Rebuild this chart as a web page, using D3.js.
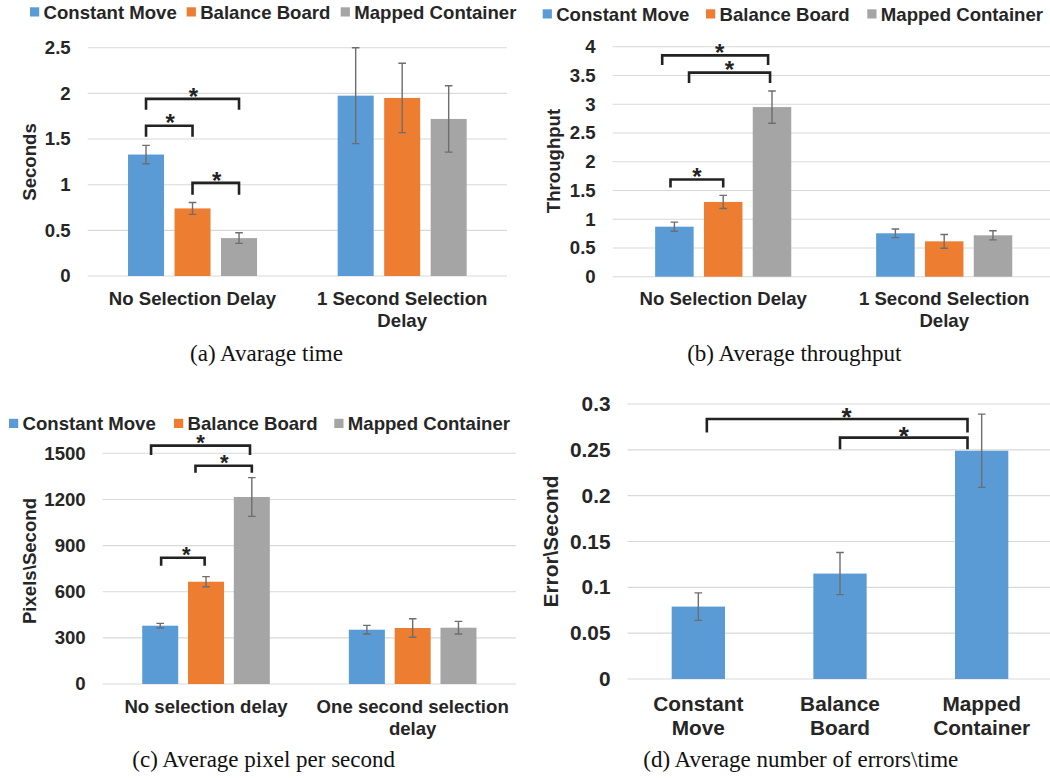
<!DOCTYPE html>
<html>
<head>
<meta charset="utf-8">
<script src="https://cdn.jsdelivr.net/npm/d3@7"></script>
<style>
  html, body { margin: 0; padding: 0; background: #ffffff; }
  svg { display: block; }
</style>
</head>
<body>
<script>
// ---------------- DATA ----------------
const seriesNames = ["Constant Move", "Balance Board", "Mapped Container"];
const seriesColors = ["#5B9BD5", "#ED7D31", "#A5A5A5"];

// (a) Average time
const timeCategories = ["No Selection Delay", "1 Second Selection Delay"];
const timeMean = [[1.33, 0.74, 0.415], [1.975, 1.95, 1.72]];
const timeErr = [[0.10, 0.065, 0.058], [0.525, 0.38, 0.363]];
const timeTicks = [0, 0.5, 1, 1.5, 2, 2.5];
// [category, from series, to series, bracket top, leg bottom, star position (series units)]
const timeBrackets = [[0, 0, 2, 1.94, 1.82, 1.02], [0, 0, 1, 1.646, 1.526, 0.52], [0, 1, 2, 1.02, 0.89, 1.52]];

// (b) Average throughput
const thrCategories = ["No Selection Delay", "1 Second Selection Delay"];
const thrMean = [[0.87, 1.30, 2.95], [0.755, 0.615, 0.72]];
const thrErr = [[0.08, 0.115, 0.28], [0.075, 0.12, 0.08]];
const thrTicks = [0, 0.5, 1, 1.5, 2, 2.5, 3, 3.5, 4];
const thrBrackets = [[0, -0.25, 1.92, 3.85, 3.68, 0.93], [0, 0.3, 1.96, 3.55, 3.37, 1.13], [0, -0.08, 1.0, 1.69, 1.55, 0.46]];

// (c) Average pixel per second
const pixCategories = ["No selection delay", "One second selection delay"];
const pixMean = [[379, 665, 1216], [353, 364, 366]];
const pixErr = [[15, 33, 126], [28, 60, 41]];
const pixTicks = [0, 300, 600, 900, 1200, 1500];
const pixBrackets = [[0, -0.2, 1.96, 1550, 1489, 0.88], [0, 0.77, 2.0, 1419, 1374, 1.40], [0, 0.02, 0.97, 821, 769, 0.57]];

// (d) Average number of errors\time
const errCategories = ["Constant Move", "Balance Board", "Mapped Container"];
const errMean = [0.079, 0.115, 0.249];
const errErr = [0.015, 0.023, 0.04];
const errTicks = [0, 0.05, 0.1, 0.15, 0.2, 0.25, 0.3];
// [from category, to category, bracket top, leg bottom, star position (category units)]
const errBrackets = [[0.06, 1.9, 0.2837, 0.269, 1.047], [1.0, 1.9, 0.2633, 0.2506, 1.45]];

const captions = ["(a) Avarage time", "(b) Average throughput", "(c) Average pixel per second", "(d) Average number of errors\\time"];
const yTitles = ["Seconds", "Throughput", "Pixels\\Second", "Error\\Second"];

// ---------------- DRAWING ----------------
const SANS = "'Liberation Sans', Arial, Helvetica, sans-serif";
const SERIF = "'Liberation Serif', 'Times New Roman', Times, serif";
const TXT = "#262626";

const svg = d3.select("body").append("svg")
  .attr("width", 1050).attr("height", 778)
  .style("background", "#ffffff");

function wrapText(textSel, width, lineHeight) {
  textSel.each(function () {
    const t = d3.select(this);
    const words = t.text().split(/\s+/);
    const x = t.attr("x");
    t.text(null);
    let line = [];
    let tspan = t.append("tspan").attr("x", x).attr("dy", 0);
    words.forEach(w => {
      line.push(w);
      tspan.text(line.join(" "));
      if (tspan.node().getComputedTextLength() > width && line.length > 1) {
        line.pop();
        tspan.text(line.join(" "));
        line = [w];
        tspan = t.append("tspan").attr("x", x).attr("dy", lineHeight).text(w);
      }
    });
  });
}

function drawAxisAndGrid(g, p, y) {
  g.append("g").selectAll("line").data(p.ticks).join("line")
    .attr("x1", p.x0).attr("x2", p.x1)
    .attr("y1", d => y(d)).attr("y2", d => y(d))
    .attr("stroke", "#d9d9d9").attr("stroke-width", 1.1);
  const ax = g.append("g").attr("transform", `translate(${p.x0},0)`)
    .call(d3.axisLeft(y).tickValues(p.ticks).tickFormat(d => String(d)).tickSize(0).tickPadding(17));
  ax.select(".domain").remove();
  ax.selectAll("text")
    .attr("font-family", SANS).attr("font-weight", "bold")
    .attr("font-size", p.fs).attr("fill", TXT);
  g.append("text")
    .attr("transform", `translate(${p.titleX},${p.titleY}) rotate(-90)`)
    .attr("text-anchor", "middle")
    .attr("font-family", SANS).attr("font-weight", "bold")
    .attr("font-size", p.fs).attr("fill", TXT)
    .text(p.yTitle);
  g.append("text")
    .attr("x", p.capX).attr("y", p.capY)
    .attr("text-anchor", "middle")
    .attr("font-family", SERIF).attr("font-size", 23).attr("fill", "#111")
    .text(p.caption);
}

function drawBracket(g, xl, xr, yTop, yLeg, xStar, fs) {
  g.append("path")
    .attr("d", `M${xl},${yLeg}V${yTop}H${xr}V${yLeg}`)
    .attr("fill", "none").attr("stroke", "#222").attr("stroke-width", 2.6);
  g.append("text")
    .attr("x", xStar).attr("y", yTop - 8 + 0.575 * fs)
    .attr("text-anchor", "middle")
    .attr("font-family", SANS).attr("font-weight", "bold")
    .attr("font-size", fs).attr("fill", "#222")
    .text("*");
}

function drawErrorBar(g, cx, yHi, yLo) {
  const cap = 3.8;
  g.append("path")
    .attr("d", `M${cx},${yHi}V${yLo}M${cx - cap},${yHi}H${cx + cap}M${cx - cap},${yLo}H${cx + cap}`)
    .attr("fill", "none").attr("stroke", "#6e6e6e").attr("stroke-width", 1.4);
}

function drawGrouped(p) {
  const g = svg.append("g");
  const y = d3.scaleLinear().domain([0, d3.max(p.ticks)]).range([p.y0, p.yTop]);
  const x = d3.scaleBand().domain(p.categories).range([p.x0, p.x1]);
  const sx = d3.scaleLinear().domain([0, seriesNames.length - 1]).range([-p.step, p.step]);
  const cx = (ci, s) => x(p.categories[ci]) + x.bandwidth() / 2 + sx(s);

  drawAxisAndGrid(g, p, y);

  const bars = [];
  p.mean.forEach((row, ci) => row.forEach((v, si) => bars.push({ ci, si, v, e: p.err[ci][si] })));

  g.append("g").selectAll("rect").data(bars).join("rect")
    .attr("x", d => cx(d.ci, d.si) - p.barW / 2)
    .attr("width", p.barW)
    .attr("y", d => y(d.v))
    .attr("height", d => y(0) - y(d.v))
    .attr("fill", d => seriesColors[d.si]);

  bars.forEach(d => drawErrorBar(g, cx(d.ci, d.si), y(d.v + d.e), y(d.v - d.e)));

  p.brackets.forEach(b => drawBracket(g, cx(b[0], b[1]), cx(b[0], b[2]), y(b[3]), y(b[4]), cx(b[0], b[5]), p.starFs));

  g.append("g").selectAll("text").data(p.categories).join("text")
    .attr("x", d => x(d) + x.bandwidth() / 2)
    .attr("y", p.labelY)
    .attr("text-anchor", "middle")
    .attr("font-family", SANS).attr("font-weight", "bold")
    .attr("font-size", p.fs).attr("fill", TXT)
    .text(d => d)
    .call(wrapText, p.wrapW, p.lineH);

  const lg = g.append("g");
  seriesNames.forEach((name, i) => {
    lg.append("rect")
      .attr("x", p.legendX[i]).attr("y", p.legendY - 11.2)
      .attr("width", 9.2).attr("height", 9.2)
      .attr("fill", seriesColors[i]);
    lg.append("text")
      .attr("x", p.legendX[i] + 13.5).attr("y", p.legendY)
      .attr("font-family", SANS).attr("font-weight", "bold")
      .attr("font-size", p.fs).attr("fill", TXT)
      .text(name);
  });
}

function drawSingle(p) {
  const g = svg.append("g");
  const y = d3.scaleLinear().domain([0, d3.max(p.ticks)]).range([p.y0, p.yTop]);
  const x = d3.scaleBand().domain(p.categories).range([p.x0, p.x1]);
  const ix = d3.scaleLinear().domain([0, 1]).range([x(p.categories[0]) + x.bandwidth() / 2, x(p.categories[1]) + x.bandwidth() / 2]);

  drawAxisAndGrid(g, p, y);

  const bars = p.mean.map((v, i) => ({ i, v, e: p.err[i] }));
  g.append("g").selectAll("rect").data(bars).join("rect")
    .attr("x", d => ix(d.i) - p.barW / 2)
    .attr("width", p.barW)
    .attr("y", d => y(d.v))
    .attr("height", d => y(0) - y(d.v))
    .attr("fill", seriesColors[0]);

  bars.forEach(d => drawErrorBar(g, ix(d.i), y(d.v + d.e), y(d.v - d.e)));

  p.brackets.forEach(b => drawBracket(g, ix(b[0]), ix(b[1]), y(b[2]), y(b[3]), ix(b[4]), p.starFs));

  g.append("g").selectAll("text").data(p.categories).join("text")
    .attr("x", d => x(d) + x.bandwidth() / 2)
    .attr("y", p.labelY)
    .attr("text-anchor", "middle")
    .attr("font-family", SANS).attr("font-weight", "bold")
    .attr("font-size", p.fs).attr("fill", TXT)
    .text(d => d)
    .call(wrapText, p.wrapW, p.lineH);
}

// (a)
drawGrouped({
  categories: timeCategories, mean: timeMean, err: timeErr, ticks: timeTicks, brackets: timeBrackets,
  x0: 87.7, x1: 507, y0: 276, yTop: 47.7, step: 46.5, barW: 36, fs: 18.6, starFs: 24,
  labelY: 305, wrapW: 200, lineH: 22,
  legendX: [30, 186.7, 340.7], legendY: 18.5,
  yTitle: yTitles[0], titleX: 36, titleY: 162,
  caption: captions[0], capX: 266.5, capY: 361
});

// (b)
drawGrouped({
  categories: thrCategories, mean: thrMean, err: thrErr, ticks: thrTicks, brackets: thrBrackets,
  x0: 612.7, x1: 1054.7, y0: 276.7, yTop: 46.7, step: 48.8, barW: 38.5, fs: 18.6, starFs: 24,
  labelY: 305.3, wrapW: 205, lineH: 22,
  legendX: [542.7, 706, 867.3], legendY: 20.5,
  yTitle: yTitles[1], titleX: 560, titleY: 161,
  caption: captions[1], capX: 794.3, capY: 361
});

// (c)
drawGrouped({
  categories: pixCategories, mean: pixMean, err: pixErr, ticks: pixTicks, brackets: pixBrackets,
  x0: 102.7, x1: 516, y0: 684, yTop: 453.3, step: 45.8, barW: 36, fs: 18.6, starFs: 22,
  labelY: 713.3, wrapW: 200, lineH: 22,
  legendX: [9, 174, 334.3], legendY: 430,
  yTitle: yTitles[2], titleX: 35.5, titleY: 561,
  caption: captions[2], capX: 263.7, capY: 767
});

// (d)
drawSingle({
  categories: errCategories, mean: errMean, err: errErr, ticks: errTicks, brackets: errBrackets,
  x0: 627.5, x1: 1052.5, y0: 679, yTop: 404, barW: 53.3, fs: 20.8, starFs: 26,
  labelY: 710.7, wrapW: 110, lineH: 24.3,
  yTitle: yTitles[3], titleX: 557.6, titleY: 541.5,
  caption: captions[3], capX: 800.8, capY: 767
});
</script>
</body>
</html>
